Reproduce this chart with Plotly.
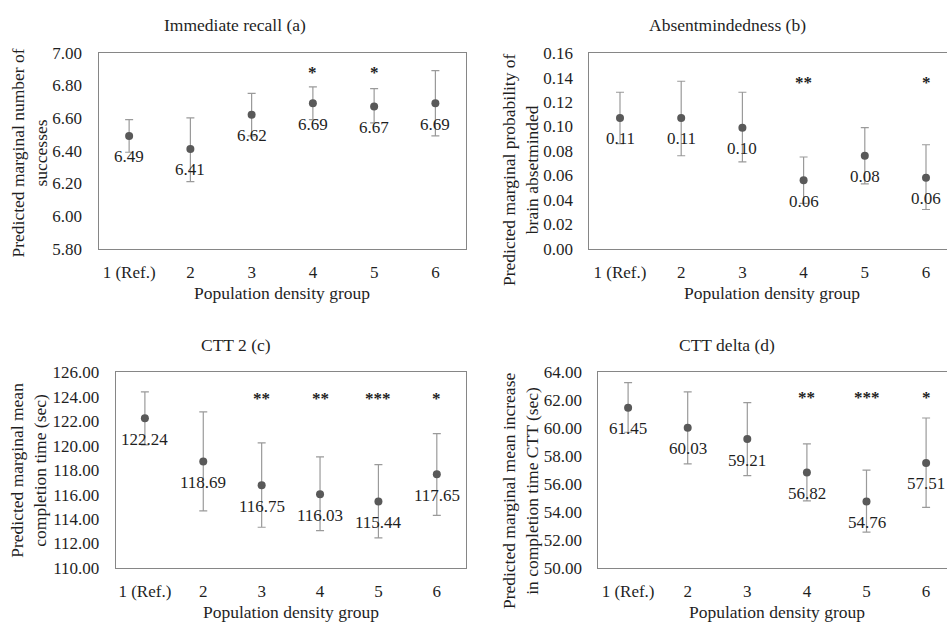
import plotly.graph_objects as go

W, H = 947, 634

categories = ["1 (Ref.)", "2", "3", "4", "5", "6"]

# Panel (a) Immediate recall
a_values = [6.49, 6.41, 6.62, 6.69, 6.67, 6.69]
a_lower = [6.39, 6.21, 6.49, 6.59, 6.57, 6.49]
a_upper = [6.59, 6.60, 6.75, 6.79, 6.78, 6.89]
a_sig = ["", "", "", "*", "*", ""]

# Panel (b) Absentmindedness
b_values = [0.107, 0.107, 0.099, 0.056, 0.076, 0.058]
b_lower = [0.086, 0.076, 0.071, 0.037, 0.053, 0.032]
b_upper = [0.128, 0.137, 0.128, 0.075, 0.099, 0.085]
b_sig = ["", "", "", "**", "", "*"]

# Panel (c) CTT 2
c_values = [122.24, 118.69, 116.75, 116.03, 115.44, 117.65]
c_lower = [120.06, 114.67, 113.33, 113.06, 112.46, 114.30]
c_upper = [124.38, 122.75, 120.22, 119.08, 118.44, 120.98]
c_sig = ["", "", "**", "**", "***", "*"]

# Panel (d) CTT delta
d_values = [61.45, 60.03, 59.21, 56.82, 54.76, 57.51]
d_lower = [59.70, 57.44, 56.60, 54.80, 52.56, 54.34]
d_upper = [63.24, 62.59, 61.82, 58.87, 57.00, 60.72]
d_sig = ["", "", "", "**", "***", "*"]

FONT = "Liberation Serif"
TXT = "#1f1f1f"
AX = "#868686"


def px_x(p):
    return p / W


def px_y(p):
    return 1 - p / H


panels = [
    dict(vals=a_values, lo=a_lower, hi=a_upper, sig=a_sig, sig_y=6.877,
         yr=[5.8, 7.0], dt=0.2, fmt="{:.2f}",
         xd=[98.5, 466], yd=[45, 247], xr_end=5.5, full_box=True,
         title="Immediate recall (a)", title_xy=(235, 17),
         ytitle="Predicted marginal number of<br>successes", ytitle_xy=(30, 149),
         xtitle_xy=(282, 293)),
    dict(vals=b_values, lo=b_lower, hi=b_upper, sig=b_sig, sig_y=0.136,
         yr=[0, 0.16], dt=0.02, fmt="{:.2f}",
         xd=[589.4, 947], yd=[45.5, 247], xr_end=5 + (947 - 926) / 61.2, full_box=False,
         title="Absentmindedness (b)", title_xy=(727, 17),
         ytitle="Predicted marginal probability of<br>brain absetminded", ytitle_xy=(520, 166),
         xtitle_xy=(772, 293)),
    dict(vals=c_values, lo=c_lower, hi=c_upper, sig=c_sig, sig_y=123.83,
         yr=[110, 126], dt=2, fmt="{:.2f}",
         xd=[115.7, 466], yd=[374.3, 576.3], xr_end=5.5, full_box=True,
         title="CTT 2 (c)", title_xy=(236, 346),
         ytitle="Predicted marginal mean<br>completion time (sec)", ytitle_xy=(29, 476),
         xtitle_xy=(291, 622)),
    dict(vals=d_values, lo=d_lower, hi=d_upper, sig=d_sig, sig_y=62.2,
         yr=[50, 64], dt=2, fmt="{:.2f}",
         xd=[598.3, 947], yd=[374.3, 576.3], xr_end=5 + (947 - 926.1) / 59.6, full_box=False,
         title="CTT delta (d)", title_xy=(727, 346),
         ytitle="Predicted marginal mean increase<br>in completion time CTT (sec)", ytitle_xy=(520, 497),
         xtitle_xy=(777, 622)),
]

fig = go.Figure()
annotations = []
xs = list(range(len(categories)))

for i, p in enumerate(panels):
    n = "" if i == 0 else str(i + 1)
    xref = "x" + n
    yref = "y" + n
    fig.add_trace(go.Scatter(
        x=xs, y=p["vals"], mode="markers",
        marker=dict(color="#595959", size=8),
        error_y=dict(type="data", symmetric=False,
                     array=[h - v for h, v in zip(p["hi"], p["vals"])],
                     arrayminus=[v - l for v, l in zip(p["vals"], p["lo"])],
                     color="#9a9a9a", thickness=1.2, width=4),
        xaxis=xref, yaxis=yref, showlegend=False, hoverinfo="skip",
    ))
    # data labels
    for x, v in zip(xs, p["vals"]):
        annotations.append(dict(x=x, y=v, xref=xref, yref=yref, text=p["fmt"].format(v),
                                showarrow=False, yshift=-21,
                                font=dict(family=FONT, size=17, color=TXT)))
    # significance stars
    for x, s in zip(xs, p["sig"]):
        if s:
            annotations.append(dict(x=x, y=p["sig_y"], xref=xref, yref=yref, text="<b>" + s + "</b>",
                                    showarrow=False, font=dict(family=FONT, size=17, color=TXT)))
    # titles
    annotations.append(dict(x=px_x(p["title_xy"][0]), y=px_y(p["title_xy"][1]), xref="paper", yref="paper",
                            text=p["title"], showarrow=False, xanchor="center", yanchor="middle",
                            font=dict(family=FONT, size=17.5, color=TXT)))
    annotations.append(dict(x=px_x(p["ytitle_xy"][0]), y=px_y(p["ytitle_xy"][1]), xref="paper", yref="paper",
                            text=p["ytitle"], showarrow=False, textangle=-90, xanchor="center",
                            yanchor="middle", font=dict(family=FONT, size=17.5, color=TXT)))
    annotations.append(dict(x=px_x(p["xtitle_xy"][0]), y=px_y(p["xtitle_xy"][1]), xref="paper", yref="paper",
                            text="Population density group", showarrow=False, xanchor="center",
                            yanchor="middle", font=dict(family=FONT, size=17.5, color=TXT)))

    ticks = []
    t = p["yr"][0]
    while t <= p["yr"][1] + 1e-9:
        ticks.append(round(t, 4))
        t += p["dt"]
    fig.update_layout(**{
        "xaxis" + n: dict(domain=[px_x(p["xd"][0]), min(1.0, px_x(p["xd"][1]))],
                          range=[-0.5, p["xr_end"]], tickvals=xs, ticktext=categories,
                          showgrid=False, zeroline=False, showline=True, linecolor=AX, linewidth=1,
                          mirror=True, ticks="", ticklabelstandoff=8,
                          tickfont=dict(family=FONT, size=17, color=TXT),
                          anchor=yref, fixedrange=True),
        "yaxis" + n: dict(domain=[px_y(p["yd"][1]), px_y(p["yd"][0])],
                          range=p["yr"], tickvals=ticks, ticktext=[p["fmt"].format(v) for v in ticks],
                          showgrid=False, zeroline=False, showline=True, linecolor=AX, linewidth=1,
                          mirror=p["full_box"], ticks="", ticklabelstandoff=12,
                          tickfont=dict(family=FONT, size=17, color=TXT),
                          anchor=xref, fixedrange=True),
    })

fig.update_layout(
    width=W, height=H,
    margin=dict(l=0, r=0, t=0, b=0),
    paper_bgcolor="white", plot_bgcolor="white",
    annotations=annotations,
    font=dict(family=FONT, color=TXT),
)

# remove the default 8 px page margin so the figure sits at the window's top-left corner
fig.write_html("out.html", config={"displayModeBar": False},
               post_script="document.body.style.margin='0';document.body.style.overflow='hidden';")
